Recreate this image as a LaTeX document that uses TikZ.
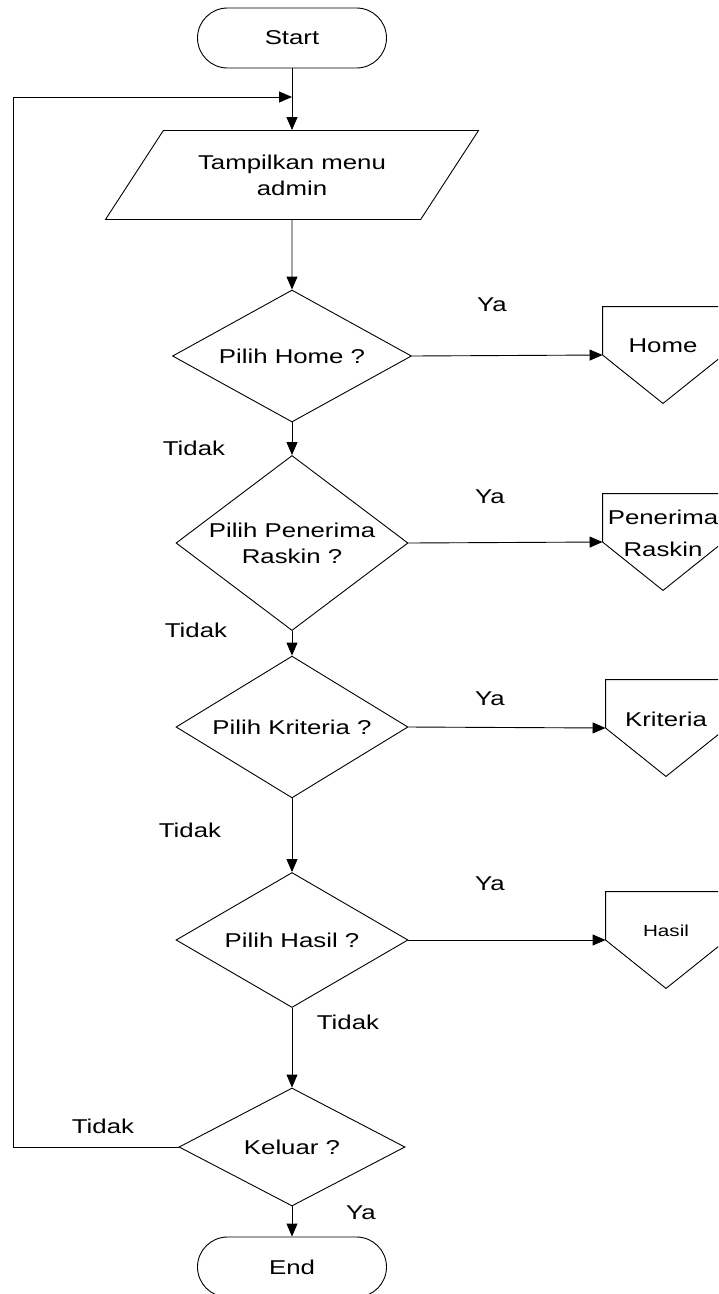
\documentclass[tikz,border=0pt]{standalone}
\usepackage{fontspec}
\setmainfont[FakeStretch=1.29]{Liberation Sans}
\usetikzlibrary{shapes,shapes.geometric,arrows.meta}

\begin{document}
\begin{tikzpicture}
	[x=1pt,y=-1pt,line width=0.9pt,
	every node/.style={font=\fontsize{20}{26}\selectfont,align=center,inner sep=2pt},
	terminal/.style={draw,rounded corners=30pt,minimum width=189pt,minimum height=60pt},
	io/.style={draw,trapezium,trapezium left angle=46,trapezium right angle=134,
		trapezium stretches=true,minimum width=374pt,minimum height=89pt},
	decision/.style={draw,diamond,inner sep=-8pt,minimum width=232pt,minimum height=135pt},
	offpage/.style={minimum width=120pt,minimum height=96pt,text depth=18pt},
	flow/.style={-{Triangle[length=13pt,width=11pt]}}]
	\clip (0,0) rectangle (718,1294);
	
	\node[terminal] (start) at (292,38) {Start};
	\node[io] (menu) at (292,175) {Tampilkan menu\\admin};
	\node[decision,minimum width=239pt,minimum height=132pt] (pilhome) at (292,356) {Pilih Home ?};
	\node[decision] (pilraskin) at (292,543) {Pilih Penerima\\Raskin ?};
	\node[decision] (pilkriteria) at (292,727) {Pilih Kriteria ?};
	\node[decision] (pilhasil) at (292,940) {Pilih Hasil ?};
	\node[decision,minimum width=226pt,minimum height=118pt] (keluar) at (292,1147) {Keluar ?};
	\node[terminal] (stop) at (292,1267) {End};
	
	% halaman lain
	\node[offpage] (home) at (663,355) {Home};
	\node[offpage] (raskin) at (663,542) {Penerima\\[6pt]Raskin};
	\node[offpage] (kriteria) at (666,728) {Kriteria};
	\node[offpage,font=\fontsize{16}{20}\selectfont] (hasil) at (666,940) {Hasil};
	\foreach \n in {home,raskin,kriteria,hasil}
	{
		\draw (\n.north west) -- (\n.north east) -- (\n.east) -- (\n.south) -- (\n.west) -- cycle;
	}
	
	% label
	\node (ya1) at (492,305) {Ya};
	\node (ya2) at (490,497) {Ya};
	\node (ya3) at (490,699) {Ya};
	\node (ya4) at (490,884) {Ya};
	\node (ya5) at (361,1213) {Ya};
	\node (tidak1) at (194,448) {Tidak};
	\node (tidak2) at (196,630) {Tidak};
	\node (tidak3) at (190,830) {Tidak};
	\node (tidak4) at (348,1022) {Tidak};
	\node (tidak5) at (103,1126) {Tidak};
	
	\coordinate (join) at (292,97);
	\draw (start) -- (join);
	\draw[flow] (join) -- (menu);
	\draw[flow] (menu) -- (pilhome);
	\foreach \startNode/\endNode in {pilhome/pilraskin,pilraskin/pilkriteria,pilkriteria/pilhasil,pilhasil/keluar,keluar/stop}
	{
		\draw[flow] (\startNode) -- (\endNode);
	}
	\foreach \startNode/\endNode in {pilhome/home,pilraskin/raskin,pilkriteria/kriteria,pilhasil/hasil}
	{
		\draw[flow] (\startNode.east) -- (\endNode.west);
	}
	\draw[flow] (keluar.west) -| (13,97) -- (join);
\end{tikzpicture}
\end{document}
